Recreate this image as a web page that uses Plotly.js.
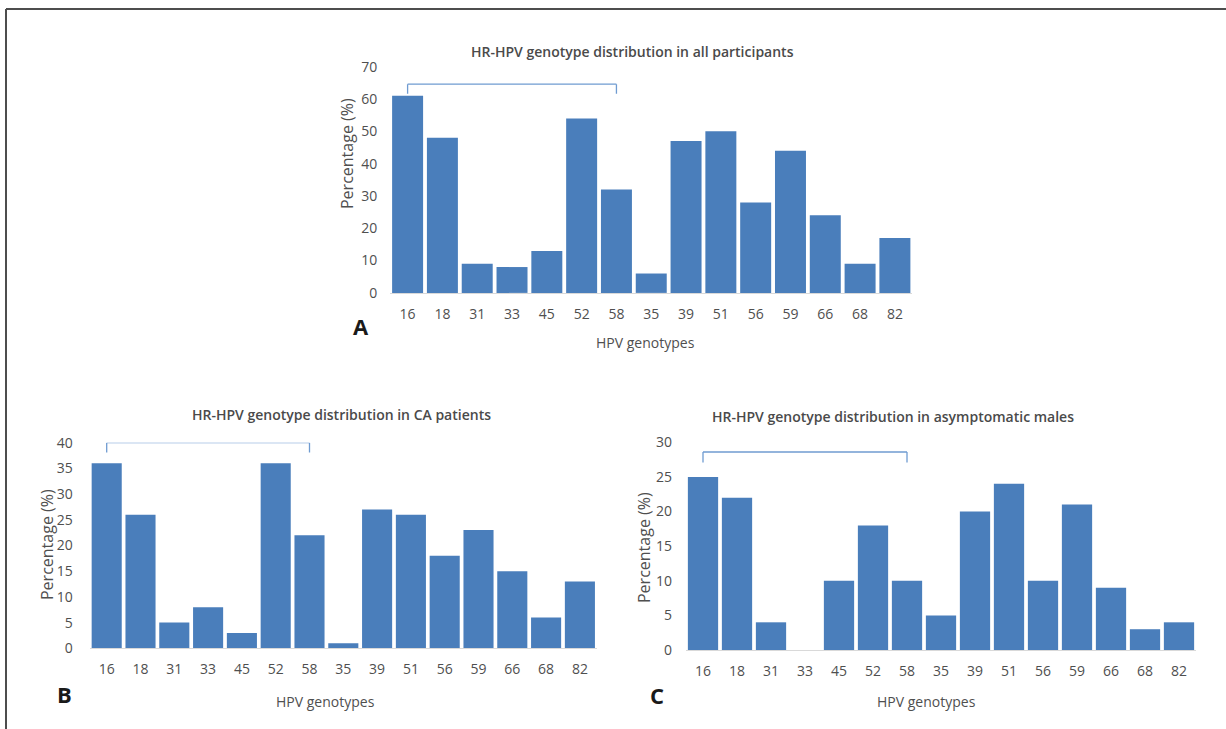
<!DOCTYPE html>
<html>
<head>
<meta charset="utf-8">
<script src="https://cdn.plot.ly/plotly-3.0.1.min.js"></script>
<style>
html,body{margin:0;padding:0;background:#fff;}
#chart{width:1226px;height:729px;}
</style>
</head>
<body>
<div id="chart"></div>
<script>
// ---- data ----
const genotypes = ['16','18','31','33','45','52','58','35','39','51','56','59','66','68','82'];
const allParticipants = [61, 48, 9, 8, 13, 54, 32, 6, 47, 50, 28, 44, 24, 9, 17];
const caPatients      = [36, 26, 5, 8, 3, 36, 22, 1, 27, 26, 18, 23, 15, 6, 13];
const asymptomaticMales = [25, 22, 4, 0, 10, 18, 10, 5, 20, 24, 10, 21, 9, 3, 4];

const titleA = 'HR-HPV genotype distribution in all participants';
const titleB = 'HR-HPV genotype distribution in CA patients';
const titleC = 'HR-HPV genotype distribution in asymptomatic males';
const xTitle = 'HPV genotypes';
const yTitle = 'Percentage (%)';
const panelLetters = ['A', 'B', 'C'];

const yMaxA = 70, yMaxB = 40, yMaxC = 30;
const yTicksA = [0,10,20,30,40,50,60,70];
const yTicksB = [0,5,10,15,20,25,30,35,40];
const yTicksC = [0,5,10,15,20,25,30];

// bracket grouping genotypes 16..58
const bracketFrom = '16', bracketTo = '58';
const bracketA = [64.6, 61.6];   // [top, foot] in data units
const bracketB = [40.0, 38.1];
const bracketC = [28.6, 27.1];

// ---- styling ----
const W = 1226, H = 729;
const px = v => v / W;
const py = v => 1 - v / H;
const barColor = '#4a7ebb';
const tickColor = '#4f4f4f';
const titleColor = '#4a4a4a';
const FONT = '"Open Sans", sans-serif';
const iFrom = genotypes.indexOf(bracketFrom);
const iTo = genotypes.indexOf(bracketTo);

function barTrace(y, xa, ya) {
  return {type:'bar', x: genotypes, y: y, xaxis: xa, yaxis: ya,
          marker:{color: barColor, line:{width:0}}, hoverinfo:'x+y', showlegend:false};
}

function xAxis(d0, d1, anchor) {
  return {domain:[px(d0), px(d1)], anchor: anchor, type:'category',
          range:[-0.5, genotypes.length - 0.5], autorange:false,
          showgrid:false, zeroline:false, showline:true, linecolor:'#d9d9d9', linewidth:1,
          ticks:'', ticklabelstandoff: 8, fixedrange:true,
          tickfont:{family: FONT, size:14, color: tickColor, weight: 500}};
}
function yAxis(top, bottom, maxV, ticks, anchor, standoff) {
  return {domain:[py(bottom), py(top)], anchor: anchor, range:[0, maxV], autorange:false,
          tickvals: ticks, showgrid:false, zeroline:false, showline:false,
          ticks:'', ticklabelstandoff: standoff, fixedrange:true,
          tickfont:{family: FONT, size:14, color: tickColor, weight: 500}};
}

function bracket(xref, yref, yy) {
  const line = {color:'#6f9bd1', width:1.3};
  return [
    {type:'line', xref, yref, x0: iFrom, x1: iTo, y0: yy[0], y1: yy[0], line},
    {type:'line', xref, yref, x0: iFrom, x1: iFrom, y0: yy[0], y1: yy[1], line},
    {type:'line', xref, yref, x0: iTo, x1: iTo, y0: yy[0], y1: yy[1], line}
  ];
}

function txt(text, x, y, size, color, opts, weight) {
  return Object.assign({text, x: px(x), y: py(y), xref:'paper', yref:'paper',
    xanchor:'center', yanchor:'middle', showarrow:false,
    font:{family: FONT, size, color, weight: weight || 400}}, opts || {});
}

const data = [
  barTrace(allParticipants, 'x', 'y'),
  barTrace(caPatients, 'x2', 'y2'),
  barTrace(asymptomaticMales, 'x3', 'y3')
];

const layout = {
  width: W, height: H,
  margin:{l:0, r:0, t:0, b:0},
  paper_bgcolor:'#ffffff', plot_bgcolor:'rgba(0,0,0,0)',
  bargap: 0.11,
  showlegend:false,
  xaxis:  xAxis(390.2, 912.3, 'y'),
  yaxis:  yAxis(66.7, 292.9, yMaxA, yTicksA, 'x', 12),
  xaxis2: xAxis(89.8, 596.8, 'y2'),
  yaxis2: yAxis(442.7, 648.3, yMaxB, yTicksB, 'x2', 16),
  xaxis3: xAxis(686.0, 1196.0, 'y3'),
  yaxis3: yAxis(442.3, 650.0, yMaxC, yTicksC, 'x3', 13),
  shapes: [
    // figure frame (top and left rules)
    {type:'line', xref:'paper', yref:'paper', x0: px(6), x1: 1, y0: py(9), y1: py(9), line:{color:'#4d4d4d', width:2}},
    {type:'line', xref:'paper', yref:'paper', x0: px(6), x1: px(6), y0: py(9), y1: 0, line:{color:'#4d4d4d', width:2}},
    ...bracket('x', 'y', bracketA),
    ...bracket('x2', 'y2', bracketB),
    ...bracket('x3', 'y3', bracketC)
  ],
  annotations: [
    txt(titleA, 633, 52, 14, titleColor, null, 600),
    txt(titleB, 341, 414, 14, titleColor, null, 600),
    txt(titleC, 893, 417, 14, titleColor, null, 600),
    txt(xTitle, 645, 342, 14, tickColor, null, 500),
    txt(xTitle, 326, 701, 14, tickColor, null, 500),
    txt(xTitle, 926, 701, 14, tickColor, null, 500),
    txt(yTitle, 347, 154, 16, tickColor, {textangle:-90}, 500),
    txt(yTitle, 47, 545, 16, tickColor, {textangle:-90}, 500),
    txt(yTitle, 644, 548, 16, tickColor, {textangle:-90}, 500),
    txt('<b>' + panelLetters[0] + '</b>', 361, 326, 22, '#1a1a1a'),
    txt('<b>' + panelLetters[1] + '</b>', 64, 694, 22, '#1a1a1a'),
    txt('<b>' + panelLetters[2] + '</b>', 657, 695, 22, '#1a1a1a')
  ]
};

Plotly.newPlot('chart', data, layout, {displayModeBar:false, staticPlot:true});
</script>
</body>
</html>
